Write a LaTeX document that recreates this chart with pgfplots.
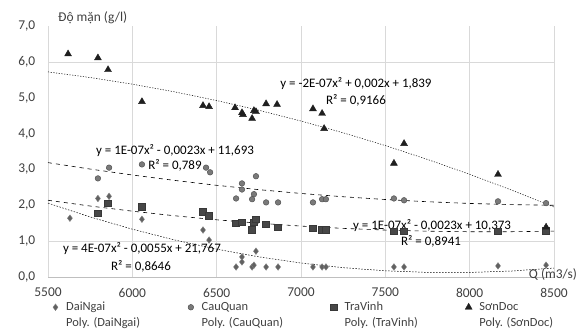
\documentclass[border=0pt]{standalone}
\usepackage{pgfplots}
\pgfplotsset{compat=1.18}
\usepackage{fontspec}
\setmainfont{Carlito}
\definecolor{gridc}{HTML}{D9D9D9}
\definecolor{axc}{HTML}{BFBFBF}
\definecolor{txt}{HTML}{404040}
\begin{document}
\begin{tikzpicture}
\begin{axis}[
  at={(0,0)}, anchor=south west,
  scale only axis, width=506bp, height=251bp,
  xmin=5500, xmax=8500, ymin=0, ymax=7,
  xtick={5500,6000,...,8500}, ytick={0,1,...,7},
  axis x line*=bottom, axis y line*=left,
  x axis line style={draw=axc, -}, y axis line style={draw=none, -},
  major tick length=0pt,
  xmajorgrids=true, major grid style={draw=gridc, line width=0.6pt},
  extra y ticks={1,6}, extra y tick labels={},
  extra y tick style={ymajorgrids=true, major grid style={draw=gridc, line width=0.6pt}},
  /pgf/number format/assume math mode=true,
  x tick label style={/pgf/number format/1000 sep={}, font=\fontsize{13.5}{15}\selectfont, text=txt, anchor=north, inner ysep=11bp},
  y tick label style={/pgf/number format/.cd, fixed, fixed zerofill, precision=1, use comma, /tikz/.cd, font=\fontsize{13.5}{15}\selectfont, text=txt, anchor=east, inner xsep=12.5bp},
  clip=false,
  legend columns=4,
  legend cell align=left,
  legend style={at={(0.5,0)}, anchor=north, yshift=-21bp, draw=none, fill=none,
    font=\fontsize{12.5}{13}\selectfont, text=txt,
    /tikz/every even column/.append style={column sep=40bp},
    row sep=1bp},
]
% scatter series
\addplot[only marks, mark=diamond*, mark size=3.3bp, mark options={fill=black!62, draw=black!50, line width=0.4pt}] coordinates {
(5630,1.64) (5796,2.19) (5862,2.25) (6057,1.61) (6419,1.31) (6455,1.03)
(6615,0.28) (6650,0.56) (6650,0.42) (6733,0.72) (6710,0.28) (6721,0.33)
(6793,0.28) (6864,0.28) (7071,0.28) (7125,0.28) (7148,0.28)
(7551,0.28) (7611,0.28) (8168,0.31) (8453,0.33)
};
\addlegendentry{DaiNgai}
\addplot[only marks, mark=*, mark size=2.8bp, mark options={fill=black!52, draw=black!68, line width=0.5pt}] coordinates {
(5796,2.75) (5862,3.05) (6057,3.14) (6437,3.05) (6461,2.92)
(6733,2.81) (6650,2.61) (6650,2.44) (6615,2.19) (6721,2.31) (6710,2.17)
(6793,2.08) (6864,2.08) (7071,2.08) (7125,2.17) (7148,2.17)
(7551,2.19) (7611,2.14) (8168,2.11) (8453,2.06)
};
\addlegendentry{CauQuan}
\addplot[only marks, mark=square*, mark size=3.4bp, mark options={fill=black!72, draw=black!78, line width=0.4pt}] coordinates {
(5796,1.78) (5856,2.06) (6057,1.97) (6419,1.83) (6455,1.72)
(6615,1.50) (6650,1.53) (6710,1.31) (6721,1.53) (6733,1.61)
(6793,1.47) (6864,1.39) (7071,1.36) (7125,1.33) (7148,1.31)
(7551,1.28) (7611,1.28) (8168,1.28) (8453,1.30)
};
\addlegendentry{TraVinh}
\addplot[only marks, mark=triangle*, mark size=4bp, mark options={fill=black!88, draw=black!88}] coordinates {
(5619,6.22) (5796,6.11) (5856,5.78) (6057,4.89)
(6419,4.78) (6455,4.75) (6609,4.72) (6650,4.58) (6656,4.53) (6710,4.42)
(6721,4.64) (6733,4.61) (6793,4.83) (6858,4.81) (7071,4.69) (7125,4.56) (7137,4.14)
(7551,3.17) (7611,3.72) (8168,2.86) (8453,1.39)
};
\addlegendentry{SơnDoc}
% trend lines
\addplot[black, line width=0.5pt, dash pattern=on 1.5bp off 1.5bp, legend image post style={opacity=0}] coordinates {
(5500,2.06) (5750,1.675) (6000,1.333) (6250,1.034) (6500,0.777) (6750,0.562) (7000,0.39)
(7250,0.260) (7500,0.173) (7750,0.129) (8000,0.127) (8250,0.167) (8500,0.25)
};
\addlegendentry{Poly. (DaiNgai)}
\addplot[black, line width=0.6pt, dash pattern=on 4bp off 4bp, legend image post style={opacity=0}] coordinates {
(5500,3.19) (5750,3.010) (6000,2.845) (6250,2.694) (6500,2.557) (6750,2.436) (7000,2.33)
(7250,2.238) (7500,2.161) (7750,2.099) (8000,2.051) (8250,2.018) (8500,2.0)
};
\addlegendentry{Poly. (CauQuan)}
\addplot[black, line width=0.6pt, dash pattern=on 4bp off 4bp, legend image post style={opacity=0}] coordinates {
(5500,2.14) (5750,1.979) (6000,1.836) (6250,1.708) (6500,1.595) (6750,1.500) (7000,1.42)
(7250,1.356) (7500,1.309) (7750,1.278) (8000,1.262) (8250,1.263) (8500,1.28)
};
\addlegendentry{Poly. (TraVinh)}
\addplot[black, line width=0.5pt, dash pattern=on 1.2bp off 1.5bp, legend image post style={opacity=0}] coordinates {
(5500,5.72) (5750,5.563) (6000,5.378) (6250,5.164) (6500,4.921) (6750,4.650) (7000,4.35)
(7250,4.022) (7500,3.665) (7750,3.279) (8000,2.864) (8250,2.421) (8500,1.95)
};
\addlegendentry{Poly. (SơnDoc)}
% labels
\node[font=\fontsize{13.5}{15}\selectfont, text=txt] at (axis cs:8494,0.07) {Q (m3/s)};
\node[font=\fontsize{13.5}{15}\selectfont, text=txt] at (axis cs:5765,7.24) {Độ mặn (g/l)};
\node[font=\fontsize{13}{15}\selectfont] at (axis cs:7326,5.39) {y = -2E-07x² + 0,002x + 1,839};
\node[font=\fontsize{13}{15}\selectfont] at (axis cs:7326,4.92) {R² = 0,9166};
\node[font=\fontsize{13}{15}\selectfont] at (axis cs:6253,3.53) {y = 1E-07x² - 0,0023x + 11,693};
\node[font=\fontsize{13}{15}\selectfont] at (axis cs:6253,3.11) {R² = 0,789};
\node[font=\fontsize{13}{15}\selectfont] at (axis cs:7777,1.44) {y = 1E-07x² - 0,0023x + 10,373};
\node[font=\fontsize{13}{15}\selectfont] at (axis cs:7771,1.0) {R² = 0,8941};
\node[font=\fontsize{13}{15}\selectfont] at (axis cs:6057,0.78) {y = 4E-07x² - 0,0055x + 21,767};
\node[font=\fontsize{13}{15}\selectfont] at (axis cs:6051,0.31) {R² = 0,8646};
\end{axis}
\pgfresetboundingbox
\path (-48bp,-54bp) rectangle (537bp,277bp);
\end{tikzpicture}
\end{document}
